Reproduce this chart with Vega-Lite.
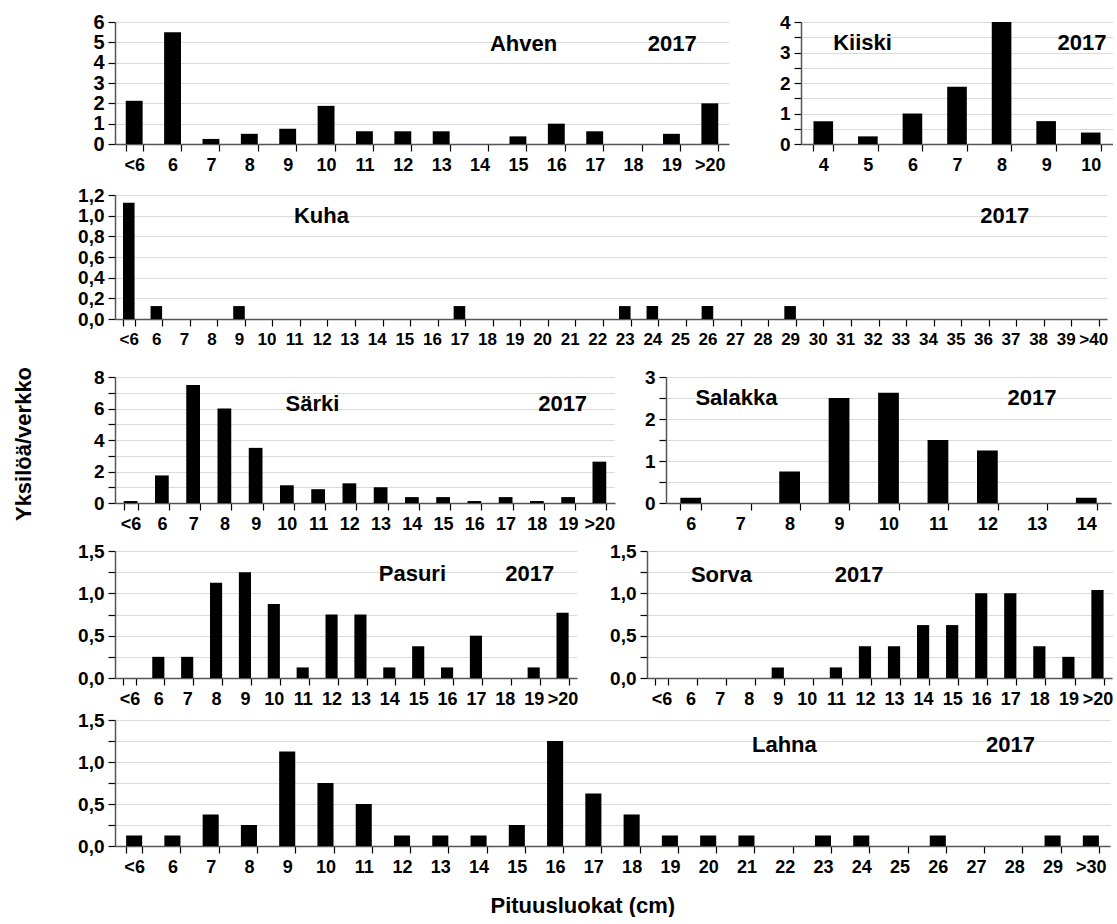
{
  "$schema": "https://vega.github.io/schema/vega-lite/v6.json",
  "background": "white",
  "padding": {"left": 12, "top": 12, "right": 0, "bottom": 0},
  "config": {
    "font": "Liberation Sans",
    "view": {"stroke": null},
    "title": {"font": "Liberation Sans", "fontWeight": "bold", "fontSize": 22, "color": "black"},
    "axis": {"labelFont": "Liberation Sans", "labelFontWeight": "bold", "labelFontSize": 18, "labelColor": "black", "domainColor": "#555555", "domainWidth": 1.5, "tickColor": "black", "tickSize": 7, "tickWidth": 1.2},
    "axisY": {"grid": true, "gridColor": "#b4b4b4", "gridDash": [1, 1], "labelPadding": 4, "labelFontSize": 19},
    "axisX": {"grid": false, "tickBand": "extent", "labelAngle": 0, "labelPadding": 5, "labelOverlap": false},
    "bar": {"color": "black"},
    "text": {"font": "Liberation Sans", "fontWeight": "bold", "fontSize": 22, "color": "black", "baseline": "middle", "align": "center"}
  },
  "title": {"text": "Pituusluokat (cm)", "orient": "bottom", "anchor": "middle", "offset": 20, "dx": 20},
  "vconcat": [
    {
      "title": {"text": "Yksilöä/verkko", "orient": "left", "anchor": "middle", "offset": 42},
      "spacing": 3,
      "vconcat": [
        {
          "spacing": 9,
          "vconcat": [
            {
              "spacing": 21,
              "vconcat": [
                {
                  "spacing": 12,
                  "vconcat": [
                    {
                      "spacing": 50,
                      "hconcat": [
                        {
                          "width": 614, "height": 122,
                          "data": {"values": [
                            {"k": "<6", "v": 2.125}, {"k": "6", "v": 5.5}, {"k": "7", "v": 0.25}, {"k": "8", "v": 0.5},
                            {"k": "9", "v": 0.75}, {"k": "10", "v": 1.875}, {"k": "11", "v": 0.625}, {"k": "12", "v": 0.625},
                            {"k": "13", "v": 0.625}, {"k": "14", "v": 0}, {"k": "15", "v": 0.375}, {"k": "16", "v": 1.0},
                            {"k": "17", "v": 0.625}, {"k": "18", "v": 0}, {"k": "19", "v": 0.5}, {"k": ">20", "v": 2.0}
                          ]},
                          "encoding": {
                            "x": {"field": "k", "type": "nominal", "scale": {"domain": ["<6","6","7","8","9","10","11","12","13","14","15","16","17","18","19",">20"], "paddingInner": 0.56, "paddingOuter": 0.28}, "axis": {"title": null}},
                            "y": {"field": "v", "type": "quantitative", "scale": {"domain": [0, 6], "nice": false}, "axis": {"title": null, "values": [0,1,2,3,4,5,6], "format": "d", "labelFontSize": 20}}
                          },
                          "layer": [
                            {"mark": "bar"},
                            {"data": {"values": [{"k": "15", "v": 4.9, "t": "Ahven"}]}, "mark": "text", "encoding": {"x": {"field": "k", "type": "nominal", "bandPosition": 0.83}, "text": {"field": "t"}}},
                            {"data": {"values": [{"k": "19", "v": 4.9, "t": "2017"}]}, "mark": "text", "encoding": {"x": {"field": "k", "type": "nominal", "bandPosition": 0.55}, "text": {"field": "t"}}}
                          ]
                        },
                        {
                          "width": 312, "height": 122,
                          "data": {"values": [
                            {"k": "4", "v": 0.75}, {"k": "5", "v": 0.25}, {"k": "6", "v": 1.0}, {"k": "7", "v": 1.875},
                            {"k": "8", "v": 4.0}, {"k": "9", "v": 0.75}, {"k": "10", "v": 0.375}
                          ]},
                          "encoding": {
                            "x": {"field": "k", "type": "nominal", "scale": {"domain": ["4","5","6","7","8","9","10"], "paddingInner": 0.56, "paddingOuter": 0.28}, "axis": {"title": null}},
                            "y": {"field": "v", "type": "quantitative", "scale": {"domain": [0, 4], "nice": false}, "axis": {"title": null, "values": [0,0.5,1,1.5,2,2.5,3,3.5,4], "labelExpr": "datum.value % 1 == 0 ? format(datum.value, 'd') : ''"}}
                          },
                          "layer": [
                            {"mark": "bar"},
                            {"data": {"values": [{"k": "5", "v": 3.3, "t": "Kiiski"}]}, "mark": "text", "encoding": {"x": {"field": "k", "type": "nominal", "bandPosition": 0.23}, "text": {"field": "t"}}},
                            {"data": {"values": [{"k": "10", "v": 3.3, "t": "2017"}]}, "mark": "text", "encoding": {"x": {"field": "k", "type": "nominal", "bandPosition": 0.05}, "text": {"field": "t"}}}
                          ]
                        }
                      ]
                    },
                    {
                      "width": 992, "height": 124,
                      "data": {"values": [
                        {"k": "<6", "v": 1.125}, {"k": "6", "v": 0.125}, {"k": "9", "v": 0.125}, {"k": "17", "v": 0.125},
                        {"k": "23", "v": 0.125}, {"k": "24", "v": 0.125}, {"k": "26", "v": 0.125}, {"k": "29", "v": 0.125}
                      ]},
                      "encoding": {
                        "x": {"field": "k", "type": "nominal", "scale": {"domain": ["<6","6","7","8","9","10","11","12","13","14","15","16","17","18","19","20","21","22","23","24","25","26","27","28","29","30","31","32","33","34","35","36","37","38","39",">40"], "paddingInner": 0.58, "paddingOuter": 0.29}, "axis": {"title": null, "labelFontSize": 17}},
                        "y": {"field": "v", "type": "quantitative", "scale": {"domain": [0, 1.2], "nice": false}, "axis": {"title": null, "values": [0,0.2,0.4,0.6,0.8,1.0,1.2], "labelExpr": "replace(format(datum.value, '.1f'), '.', ',')"}}
                      },
                      "layer": [
                        {"mark": "bar"},
                        {"data": {"values": [{"k": "12", "v": 1.0, "t": "Kuha"}]}, "mark": "text", "encoding": {"x": {"field": "k", "type": "nominal", "bandPosition": 0.48}, "text": {"field": "t"}}},
                        {"data": {"values": [{"k": "37", "v": 1.0, "t": "2017"}]}, "mark": "text", "encoding": {"x": {"field": "k", "type": "nominal", "bandPosition": 0.0}, "text": {"field": "t"}}}
                      ]
                    }
                  ]
                },
                {
                  "spacing": 29,
                  "hconcat": [
                    {
                      "width": 500, "height": 126,
                      "data": {"values": [
                        {"k": "<6", "v": 0.125}, {"k": "6", "v": 1.75}, {"k": "7", "v": 7.5}, {"k": "8", "v": 6.0},
                        {"k": "9", "v": 3.5}, {"k": "10", "v": 1.125}, {"k": "11", "v": 0.875}, {"k": "12", "v": 1.25},
                        {"k": "13", "v": 1.0}, {"k": "14", "v": 0.375}, {"k": "15", "v": 0.375}, {"k": "16", "v": 0.125},
                        {"k": "17", "v": 0.375}, {"k": "18", "v": 0.125}, {"k": "19", "v": 0.375}, {"k": ">20", "v": 2.625}
                      ]},
                      "encoding": {
                        "x": {"field": "k", "type": "nominal", "scale": {"domain": ["<6","6","7","8","9","10","11","12","13","14","15","16","17","18","19",">20"], "paddingInner": 0.56, "paddingOuter": 0.28}, "axis": {"title": null}},
                        "y": {"field": "v", "type": "quantitative", "scale": {"domain": [0, 8], "nice": false}, "axis": {"title": null, "values": [0,1,2,3,4,5,6,7,8], "labelExpr": "datum.value % 2 == 0 ? format(datum.value, 'd') : ''"}}
                      },
                      "layer": [
                        {"mark": "bar"},
                        {"data": {"values": [{"k": "11", "v": 6.3, "t": "Särki"}]}, "mark": "text", "encoding": {"x": {"field": "k", "type": "nominal", "bandPosition": 0.09}, "text": {"field": "t"}}},
                        {"data": {"values": [{"k": "19", "v": 6.3, "t": "2017"}]}, "mark": "text", "encoding": {"x": {"field": "k", "type": "nominal", "bandPosition": 0.1}, "text": {"field": "t"}}}
                      ]
                    },
                    {
                      "width": 445, "height": 126,
                      "data": {"values": [
                        {"k": "6", "v": 0.125}, {"k": "7", "v": 0}, {"k": "8", "v": 0.75}, {"k": "9", "v": 2.5},
                        {"k": "10", "v": 2.625}, {"k": "11", "v": 1.5}, {"k": "12", "v": 1.25}, {"k": "13", "v": 0}, {"k": "14", "v": 0.125}
                      ]},
                      "encoding": {
                        "x": {"field": "k", "type": "nominal", "scale": {"domain": ["6","7","8","9","10","11","12","13","14"], "paddingInner": 0.58, "paddingOuter": 0.29}, "axis": {"title": null}},
                        "y": {"field": "v", "type": "quantitative", "scale": {"domain": [0, 3], "nice": false}, "axis": {"title": null, "values": [0,0.5,1,1.5,2,2.5,3], "labelExpr": "datum.value % 1 == 0 ? format(datum.value, 'd') : ''"}}
                      },
                      "layer": [
                        {"mark": "bar"},
                        {"data": {"values": [{"k": "7", "v": 2.5, "t": "Salakka"}]}, "mark": "text", "encoding": {"x": {"field": "k", "type": "nominal", "bandPosition": 0.32}, "text": {"field": "t"}}},
                        {"data": {"values": [{"k": "13", "v": 2.5, "t": "2017"}]}, "mark": "text", "encoding": {"x": {"field": "k", "type": "nominal", "bandPosition": 0.27}, "text": {"field": "t"}}}
                      ]
                    }
                  ]
                }
              ]
            },
            {
              "spacing": 31,
              "hconcat": [
                {
                  "width": 462, "height": 127,
                  "data": {"values": [
                    {"k": "<6", "v": 0}, {"k": "6", "v": 0.25}, {"k": "7", "v": 0.25}, {"k": "8", "v": 1.125},
                    {"k": "9", "v": 1.25}, {"k": "10", "v": 0.875}, {"k": "11", "v": 0.125}, {"k": "12", "v": 0.75},
                    {"k": "13", "v": 0.75}, {"k": "14", "v": 0.125}, {"k": "15", "v": 0.375}, {"k": "16", "v": 0.125},
                    {"k": "17", "v": 0.5}, {"k": "18", "v": 0}, {"k": "19", "v": 0.125}, {"k": ">20", "v": 0.77}
                  ]},
                  "encoding": {
                    "x": {"field": "k", "type": "nominal", "scale": {"domain": ["<6","6","7","8","9","10","11","12","13","14","15","16","17","18","19",">20"], "paddingInner": 0.58, "paddingOuter": 0.29}, "axis": {"title": null}},
                    "y": {"field": "v", "type": "quantitative", "scale": {"domain": [0, 1.5], "nice": false}, "axis": {"title": null, "values": [0,0.25,0.5,0.75,1,1.25,1.5], "labelExpr": "datum.value % 0.5 == 0 ? replace(format(datum.value, '.1f'), '.', ',') : ''"}}
                  },
                  "layer": [
                    {"mark": "bar"},
                    {"data": {"values": [{"k": "15", "v": 1.23, "t": "Pasuri"}]}, "mark": "text", "encoding": {"x": {"field": "k", "type": "nominal", "bandPosition": 0.02}, "text": {"field": "t"}}},
                    {"data": {"values": [{"k": "19", "v": 1.23, "t": "2017"}]}, "mark": "text", "encoding": {"x": {"field": "k", "type": "nominal", "bandPosition": 0.17}, "text": {"field": "t"}}}
                  ]
                },
                {
                  "width": 465, "height": 127,
                  "data": {"values": [
                    {"k": "<6", "v": 0}, {"k": "6", "v": 0}, {"k": "7", "v": 0}, {"k": "8", "v": 0},
                    {"k": "9", "v": 0.125}, {"k": "10", "v": 0}, {"k": "11", "v": 0.125}, {"k": "12", "v": 0.375},
                    {"k": "13", "v": 0.375}, {"k": "14", "v": 0.625}, {"k": "15", "v": 0.625}, {"k": "16", "v": 1.0},
                    {"k": "17", "v": 1.0}, {"k": "18", "v": 0.375}, {"k": "19", "v": 0.25}, {"k": ">20", "v": 1.04}
                  ]},
                  "encoding": {
                    "x": {"field": "k", "type": "nominal", "scale": {"domain": ["<6","6","7","8","9","10","11","12","13","14","15","16","17","18","19",">20"], "paddingInner": 0.58, "paddingOuter": 0.29}, "axis": {"title": null}},
                    "y": {"field": "v", "type": "quantitative", "scale": {"domain": [0, 1.5], "nice": false}, "axis": {"title": null, "values": [0,0.25,0.5,0.75,1,1.25,1.5], "labelExpr": "datum.value % 0.5 == 0 ? replace(format(datum.value, '.1f'), '.', ',') : ''"}}
                  },
                  "layer": [
                    {"mark": "bar"},
                    {"data": {"values": [{"k": "7", "v": 1.22, "t": "Sorva"}]}, "mark": "text", "encoding": {"x": {"field": "k", "type": "nominal", "bandPosition": 0.65}, "text": {"field": "t"}}},
                    {"data": {"values": [{"k": "12", "v": 1.22, "t": "2017"}]}, "mark": "text", "encoding": {"x": {"field": "k", "type": "nominal", "bandPosition": 0.02}, "text": {"field": "t"}}}
                  ]
                }
              ]
            }
          ]
        },
        {
          "width": 995, "height": 126,
          "data": {"values": [
            {"k": "<6", "v": 0.125}, {"k": "6", "v": 0.125}, {"k": "7", "v": 0.375}, {"k": "8", "v": 0.25},
            {"k": "9", "v": 1.125}, {"k": "10", "v": 0.75}, {"k": "11", "v": 0.5}, {"k": "12", "v": 0.125},
            {"k": "13", "v": 0.125}, {"k": "14", "v": 0.125}, {"k": "15", "v": 0.25}, {"k": "16", "v": 1.25},
            {"k": "17", "v": 0.625}, {"k": "18", "v": 0.375}, {"k": "19", "v": 0.125}, {"k": "20", "v": 0.125},
            {"k": "21", "v": 0.125}, {"k": "22", "v": 0}, {"k": "23", "v": 0.125}, {"k": "24", "v": 0.125},
            {"k": "25", "v": 0}, {"k": "26", "v": 0.125}, {"k": "27", "v": 0}, {"k": "28", "v": 0},
            {"k": "29", "v": 0.125}, {"k": ">30", "v": 0.125}
          ]},
          "encoding": {
            "x": {"field": "k", "type": "nominal", "scale": {"domain": ["<6","6","7","8","9","10","11","12","13","14","15","16","17","18","19","20","21","22","23","24","25","26","27","28","29",">30"], "paddingInner": 0.58, "paddingOuter": 0.29}, "axis": {"title": null}},
            "y": {"field": "v", "type": "quantitative", "scale": {"domain": [0, 1.5], "nice": false}, "axis": {"title": null, "values": [0,0.25,0.5,0.75,1,1.25,1.5], "labelExpr": "datum.value % 0.5 == 0 ? replace(format(datum.value, '.1f'), '.', ',') : ''"}}
          },
          "layer": [
            {"mark": "bar"},
            {"data": {"values": [{"k": "22", "v": 1.2, "t": "Lahna"}]}, "mark": "text", "encoding": {"x": {"field": "k", "type": "nominal", "bandPosition": 0.48}, "text": {"field": "t"}}},
            {"data": {"values": [{"k": "28", "v": 1.2, "t": "2017"}]}, "mark": "text", "encoding": {"x": {"field": "k", "type": "nominal", "bandPosition": 0.26}, "text": {"field": "t"}}}
          ]
        }
      ]
    }
  ]
}
